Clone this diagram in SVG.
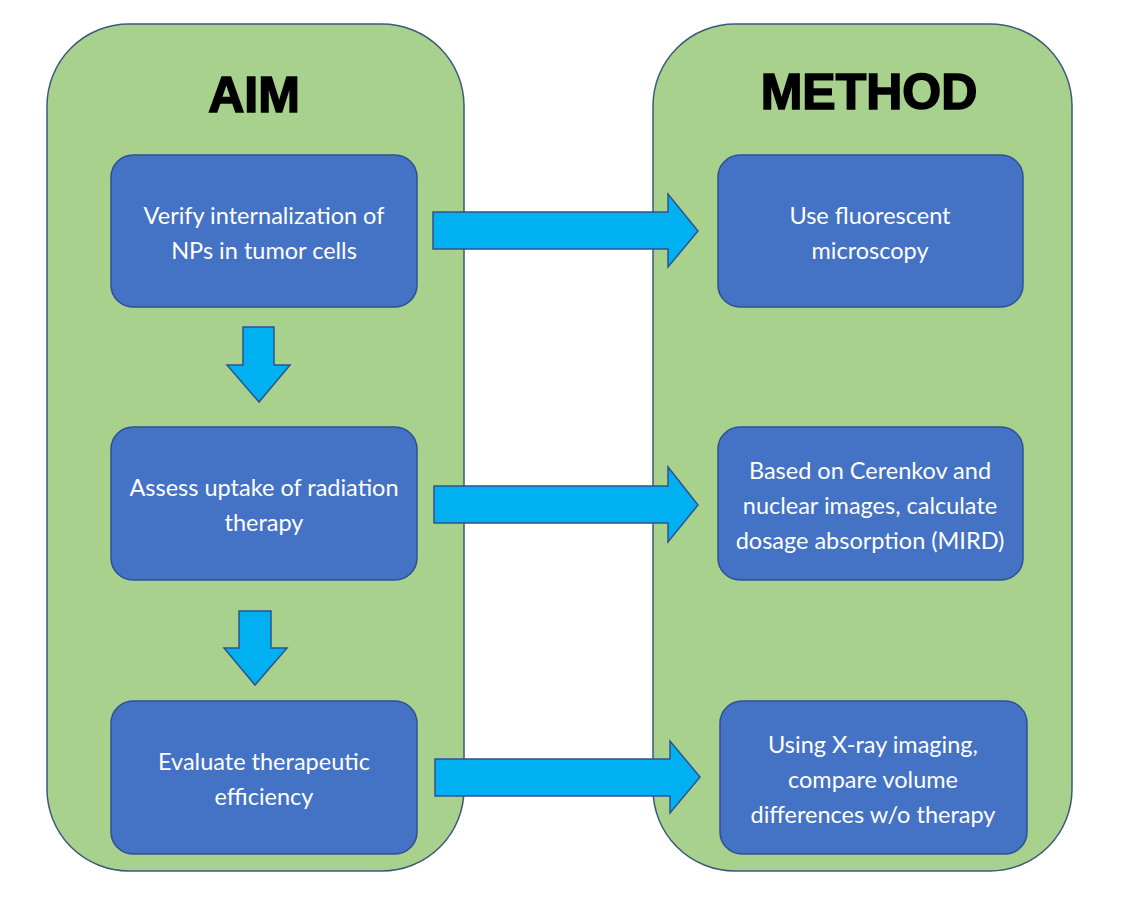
<svg xmlns="http://www.w3.org/2000/svg" width="1124" height="906" viewBox="0 0 1124 906">
<defs>
<style>
.panel{fill:#A9D18E;stroke:#3B5A7A;stroke-width:1.5}
.box{fill:#4472C4;stroke:#2F528F;stroke-width:1.5}
.arrow{fill:#00B0F0;stroke:#2F528F;stroke-width:1.5;stroke-linejoin:miter}
.title{font-family:"Liberation Sans",Arial,sans-serif;font-weight:bold;font-size:50px;fill:#000;stroke:#000;stroke-width:1.6;text-anchor:middle}
.lbl{font-family:Lato,"Open Sans",sans-serif;font-size:23.5px;fill:#FFFFFF;text-anchor:middle}
</style>
</defs>
<rect width="1124" height="906" fill="#FFFFFF"/>
<g id="panel-aim">
<rect class="panel" x="47" y="24" width="417" height="847" rx="82" ry="82"/>
<text class="title" x="254" y="112">AIM</text>
</g>
<g id="panel-method">
<rect class="panel" x="653" y="24" width="419" height="847" rx="82" ry="82"/>
<text class="title" x="869" y="109">METHOD</text>
</g>
<g id="aim1">
<rect class="box" x="111" y="155" width="306" height="152" rx="22" ry="22"/>
<text class="lbl" x="264" y="224">Verify internalization of</text>
<text class="lbl" x="264" y="259">NPs in tumor cells</text>
</g>
<g id="aim2">
<rect class="box" x="111" y="427" width="306" height="153" rx="22" ry="22"/>
<text class="lbl" x="264" y="496">Assess uptake of radiation</text>
<text class="lbl" x="264" y="531">therapy</text>
</g>
<g id="aim3">
<rect class="box" x="111" y="701" width="306" height="153" rx="22" ry="22"/>
<text class="lbl" x="264" y="770">Evaluate therapeutic</text>
<text class="lbl" x="264" y="805">efficiency</text>
</g>
<g id="method1">
<rect class="box" x="718" y="155" width="305" height="152" rx="22" ry="22"/>
<text class="lbl" x="870" y="224">Use fluorescent</text>
<text class="lbl" x="870" y="259">microscopy</text>
</g>
<g id="method2">
<rect class="box" x="718" y="427" width="305" height="153" rx="22" ry="22"/>
<text class="lbl" x="870" y="479">Based on Cerenkov and</text>
<text class="lbl" x="870" y="514">nuclear images, calculate</text>
<text class="lbl" x="870" y="549">dosage absorption (MIRD)</text>
</g>
<g id="method3">
<rect class="box" x="720" y="701" width="307" height="153" rx="22" ry="22"/>
<text class="lbl" x="873" y="753">Using X-ray imaging,</text>
<text class="lbl" x="873" y="788">compare volume</text>
<text class="lbl" x="873" y="823">differences w/o therapy</text>
</g>
<g id="connectors">
<polygon class="arrow" points="433,212 668,212 668,194 698,231 668,267 668,249 433,249"/>
<polygon class="arrow" points="434,486 668,486 668,467 698,505 668,542 668,523 434,523"/>
<polygon class="arrow" points="435,759 670,759 670,741 700,777 670,813 670,796 435,796"/>
<polygon class="arrow" points="243,327 274,327 274,365 290,365 259,402 227,365 243,365"/>
<polygon class="arrow" points="239,611 271,611 271,648 287,648 255,685 224,648 239,648"/>
</g>
</svg>
